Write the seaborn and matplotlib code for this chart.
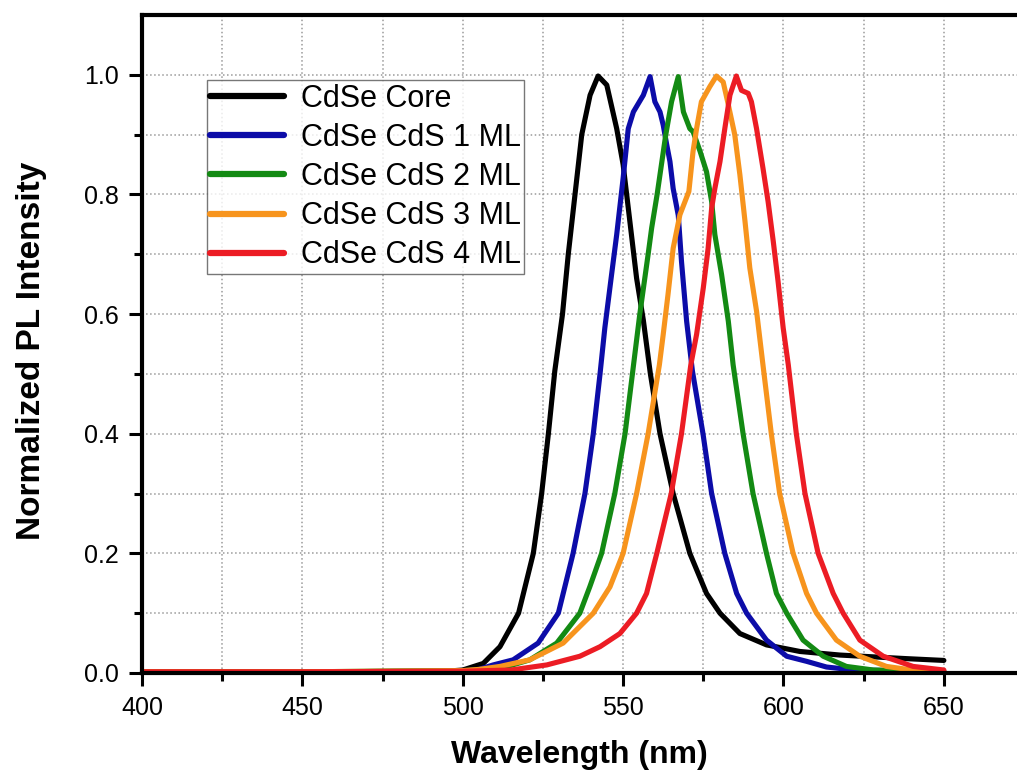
import numpy as np
import pandas as pd
import matplotlib
matplotlib.use('Agg')
import matplotlib.pyplot as plt
import seaborn as sns
from matplotlib.ticker import MultipleLocator, FixedLocator, FormatStrFormatter

# PL spectra (wavelength in nm, normalized intensity)
core_wl = [400, 450, 495, 500, 506.4, 511.6, 517.4, 522.0, 524.6, 526.7, 528.7, 531.1, 532.9,
           535.0, 537.1, 539.7, 542.2, 544.9, 548.0, 550.0, 552.1, 554.2, 556.3, 558.5, 561.5,
           565.6, 570.8, 576.0, 580.2, 586.4, 594.7, 605.1, 617.6, 638.4, 650]
core_int = [0.002, 0.002, 0.003, 0.005, 0.016, 0.044, 0.10, 0.20, 0.30, 0.40, 0.505, 0.60, 0.70,
            0.80, 0.90, 0.966, 0.998, 0.983, 0.91, 0.85, 0.755, 0.66, 0.59, 0.50, 0.40,
            0.30, 0.20, 0.133, 0.10, 0.066, 0.047, 0.036, 0.030, 0.024, 0.021]

ml1_wl = [400, 450, 500, 505, 509.5, 515.7, 523.5, 529.8, 534.4, 538.1, 540.7, 542.8, 544.3,
          546.4, 548.0, 550.0, 551.6, 553.2, 556.3, 558.4, 559.9, 561.5, 562.5, 563.6, 564.6,
          565.6, 567.2, 568.2, 569.8, 571.6, 574.9, 577.6, 581.7, 585.4, 588.5, 594.7, 601.0,
          607.2, 613.4, 622, 650]
ml1_int = [0.002, 0.002, 0.003, 0.006, 0.0135, 0.022, 0.05, 0.10, 0.20, 0.30, 0.40, 0.50, 0.577,
           0.666, 0.733, 0.827, 0.91, 0.938, 0.966, 0.997, 0.955, 0.938, 0.916, 0.883, 0.855,
           0.81, 0.765, 0.688, 0.588, 0.505, 0.40, 0.30, 0.20, 0.133, 0.10, 0.055, 0.028,
           0.0195, 0.010, 0.005, 0.003]

ml2_wl = [400, 450, 500, 507, 514, 520.9, 529.3, 536.5, 539.6, 543.3, 547.4, 550.6, 552.9,
          555.2, 557.8, 558.9, 560.6, 563.3, 565.1, 567.2, 568.8, 570.8, 571.8, 574.0, 576.0,
          577.6, 578.6, 580.7, 582.8, 584.3, 587.4, 590.5, 594.7, 597.8, 601.0, 606.1, 612.4,
          619.6, 628, 650]
ml2_int = [0.002, 0.002, 0.004, 0.006, 0.011, 0.022, 0.05, 0.10, 0.144, 0.20, 0.30, 0.40, 0.50,
           0.60, 0.70, 0.744, 0.80, 0.90, 0.955, 0.997, 0.938, 0.91, 0.905, 0.872, 0.838,
           0.788, 0.733, 0.666, 0.588, 0.515, 0.40, 0.30, 0.20, 0.133, 0.10, 0.055, 0.028,
           0.011, 0.005, 0.002]

ml3_wl = [400, 450, 500, 505, 511.6, 520.9, 531.3, 540.7, 545.9, 550.0, 554.2, 557.8, 561.3,
          562.5, 564.0, 565.6, 567.7, 570.5, 571.8, 572.9, 574.4, 577.0, 579.1, 581.2, 582.8,
          584.8, 586.4, 588.0, 589.5, 591.6, 593.6, 596.2, 598.8, 603.0, 607.2, 610.3, 616.5,
          623.8, 632.1, 640, 650]
ml3_int = [0.002, 0.002, 0.004, 0.006, 0.011, 0.022, 0.05, 0.10, 0.144, 0.20, 0.30, 0.40, 0.515,
           0.566, 0.633, 0.71, 0.766, 0.805, 0.872, 0.91, 0.955, 0.98, 0.998, 0.988, 0.95,
           0.90, 0.833, 0.755, 0.677, 0.605, 0.515, 0.40, 0.30, 0.20, 0.133, 0.10, 0.055,
           0.028, 0.011, 0.005, 0.003]

ml4_wl = [400, 450, 500, 515, 526.2, 536.5, 542.8, 549.0, 554.2, 557.3, 560.5, 565.0, 568.2,
          571.1, 572.9, 575.0, 576.5, 577.6, 578.6, 580.2, 581.7, 583.3, 585.3, 586.9, 589.0,
          590.0, 591.6, 593.6, 595.2, 596.8, 598.3, 599.9, 601.5, 604.0, 606.7, 610.8, 615.5,
          618.6, 623.8, 631.1, 640.4, 650]
ml4_int = [0.002, 0.002, 0.003, 0.005, 0.0135, 0.028, 0.044, 0.066, 0.10, 0.133, 0.20, 0.30, 0.40,
           0.515, 0.566, 0.644, 0.71, 0.777, 0.81, 0.855, 0.91, 0.966, 0.998, 0.974, 0.969,
           0.955, 0.91, 0.844, 0.788, 0.722, 0.655, 0.577, 0.515, 0.40, 0.30, 0.20, 0.133,
           0.10, 0.055, 0.028, 0.011, 0.005]

labels = ['CdSe Core', 'CdSe CdS 1 ML', 'CdSe CdS 2 ML', 'CdSe CdS 3 ML', 'CdSe CdS 4 ML']
colors = ['#000000', '#0c0ca8', '#138a13', '#f7941d', '#ec1c24']

series = [(core_wl, core_int), (ml1_wl, ml1_int), (ml2_wl, ml2_int),
          (ml3_wl, ml3_int), (ml4_wl, ml4_int)]
df = pd.concat([pd.DataFrame({'wl': w, 'pl': i, 'sample': lab})
                for (w, i), lab in zip(series, labels)], ignore_index=True)

sns.set_theme(style='white', rc={'text.color': 'black', 'axes.labelcolor': 'black',
                                 'xtick.color': 'black', 'ytick.color': 'black'})
plt.rcParams['font.family'] = ['Liberation Sans', 'DejaVu Sans']

fig = plt.figure(figsize=(10.17, 7.73), dpi=100)
ax = fig.add_axes([142/1017, 100/773, 875/1017, 658/773])

sns.lineplot(data=df, x='wl', y='pl', hue='sample', hue_order=labels,
             palette=colors, linewidth=3.7, estimator=None, sort=False, ax=ax)

ax.set_xlim(400, 672.8)
ax.set_ylim(0, 1.1)

ax.xaxis.set_major_locator(MultipleLocator(50))
ax.xaxis.set_minor_locator(FixedLocator([425, 475, 525, 575, 625]))
ax.yaxis.set_major_locator(FixedLocator([0, 0.2, 0.4, 0.6, 0.8, 1.0]))
ax.yaxis.set_minor_locator(FixedLocator([0.1, 0.3, 0.5, 0.7, 0.9]))
ax.yaxis.set_major_formatter(FormatStrFormatter('%.1f'))

ax.grid(True, which='both', color='#9a9a9a', linestyle=':', linewidth=1.1)
ax.set_axisbelow(True)

for side in ['left', 'bottom', 'top']:
    ax.spines[side].set_linewidth(3)
    ax.spines[side].set_color('black')
ax.spines['right'].set_visible(False)

ax.tick_params(which='major', direction='out', length=9.5, width=2.2,
               labelsize=18, pad=7, colors='black', bottom=True, left=True)
ax.tick_params(which='minor', direction='out', length=6, width=2.2,
               bottom=True, left=True)

ax.set_xlabel('Wavelength (nm)', fontsize=23, fontweight='bold')
ax.set_ylabel('Normalized PL Intensity', fontsize=24, fontweight='bold')
ax.xaxis.set_label_coords(0.5, -0.102)
ax.yaxis.set_label_coords(-0.108, 0.49)

handles, labs = ax.get_legend_handles_labels()
leg = ax.legend(handles, labs, loc='upper left', bbox_to_anchor=(0.074, 0.901),
                borderaxespad=0, fontsize=22, frameon=True, fancybox=False,
                handlelength=2.4, handletextpad=0.55, labelspacing=0.3,
                borderpad=0.12)
leg.get_frame().set_edgecolor('#555555')
leg.get_frame().set_linewidth(1.0)
for ln in leg.get_lines():
    ln.set_linewidth(4.5)

fig.savefig('out.png', dpi=100)
